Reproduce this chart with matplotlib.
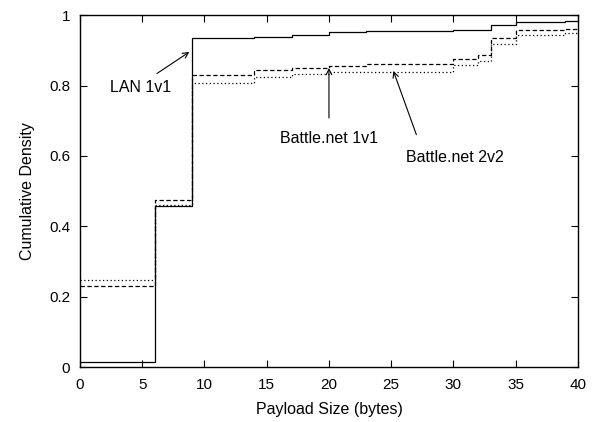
import matplotlib
matplotlib.use('Agg')
import matplotlib.pyplot as plt

plt.rcParams['font.family'] = ['Liberation Sans', 'DejaVu Sans']

# payload size breakpoints (bytes) and CDF values after each step
lan_x = [0, 6, 9, 14, 17, 20, 23, 30, 33, 35, 39, 40]
lan_y = [0.016, 0.458, 0.934, 0.938, 0.945, 0.951, 0.954, 0.957, 0.972, 0.981, 0.984, 0.984]

bnet1_x = [0, 6, 9, 14, 17, 20, 23, 30, 32, 33, 35, 39, 40]
bnet1_y = [0.230, 0.474, 0.830, 0.844, 0.850, 0.855, 0.861, 0.875, 0.888, 0.934, 0.959, 0.962, 0.962]

bnet2_x = [0, 6, 9, 14, 17, 20, 30, 32, 33, 35, 39, 40]
bnet2_y = [0.248, 0.462, 0.806, 0.823, 0.834, 0.839, 0.858, 0.870, 0.917, 0.943, 0.948, 0.948]

x_ticks = [0, 5, 10, 15, 20, 25, 30, 35, 40]
y_ticks = [0, 0.2, 0.4, 0.6, 0.8, 1]


def plot_payload_cdf():
    fig = plt.figure(figsize=(5.97, 4.22), dpi=100)
    ax = fig.add_axes([0.134, 0.130, 0.834, 0.834])

    ax.step(lan_x, lan_y, where='post', color='black', lw=0.9, linestyle='-')
    ax.step(bnet1_x, bnet1_y, where='post', color='black', lw=0.9, linestyle=(0, (3.5, 2)))
    ax.step(bnet2_x, bnet2_y, where='post', color='black', lw=0.9, linestyle=(0, (1, 2)))

    ax.set_xlim(0, 40)
    ax.set_ylim(0, 1)
    ax.set_xticks(x_ticks)
    ax.set_xticklabels([str(t) for t in x_ticks])
    ax.set_yticks(y_ticks)
    ax.set_yticklabels([f'{t:g}' for t in y_ticks])
    ax.tick_params(direction='in', top=True, right=True, length=5, width=0.8, labelsize=11)
    ax.tick_params(axis='x', pad=8)
    ax.tick_params(axis='y', pad=7)
    for s in ax.spines.values():
        s.set_linewidth(1.0)

    ax.set_xlabel('Payload Size (bytes)', fontsize=11.5, labelpad=7)
    ax.set_ylabel('Cumulative Density', fontsize=11.5, labelpad=10)

    arrow = dict(arrowstyle='->', color='black', lw=0.8)
    ax.annotate('', xy=(8.97, 0.90), xytext=(6.0, 0.83), arrowprops=arrow)
    ax.text(4.9, 0.795, 'LAN 1v1', fontsize=11.5, ha='center', va='center')
    ax.annotate('', xy=(20.0, 0.858), xytext=(20.0, 0.70), arrowprops=arrow)
    ax.text(20.0, 0.651, 'Battle.net 1v1', fontsize=11.5, ha='center', va='center')
    ax.annotate('', xy=(25.1, 0.849), xytext=(27.1, 0.653), arrowprops=arrow)
    ax.text(30.1, 0.597, 'Battle.net 2v2', fontsize=11.5, ha='center', va='center')

    plt.savefig('out.png', dpi=100)


def main():
    plot_payload_cdf()


if __name__ == "__main__":
    main()
